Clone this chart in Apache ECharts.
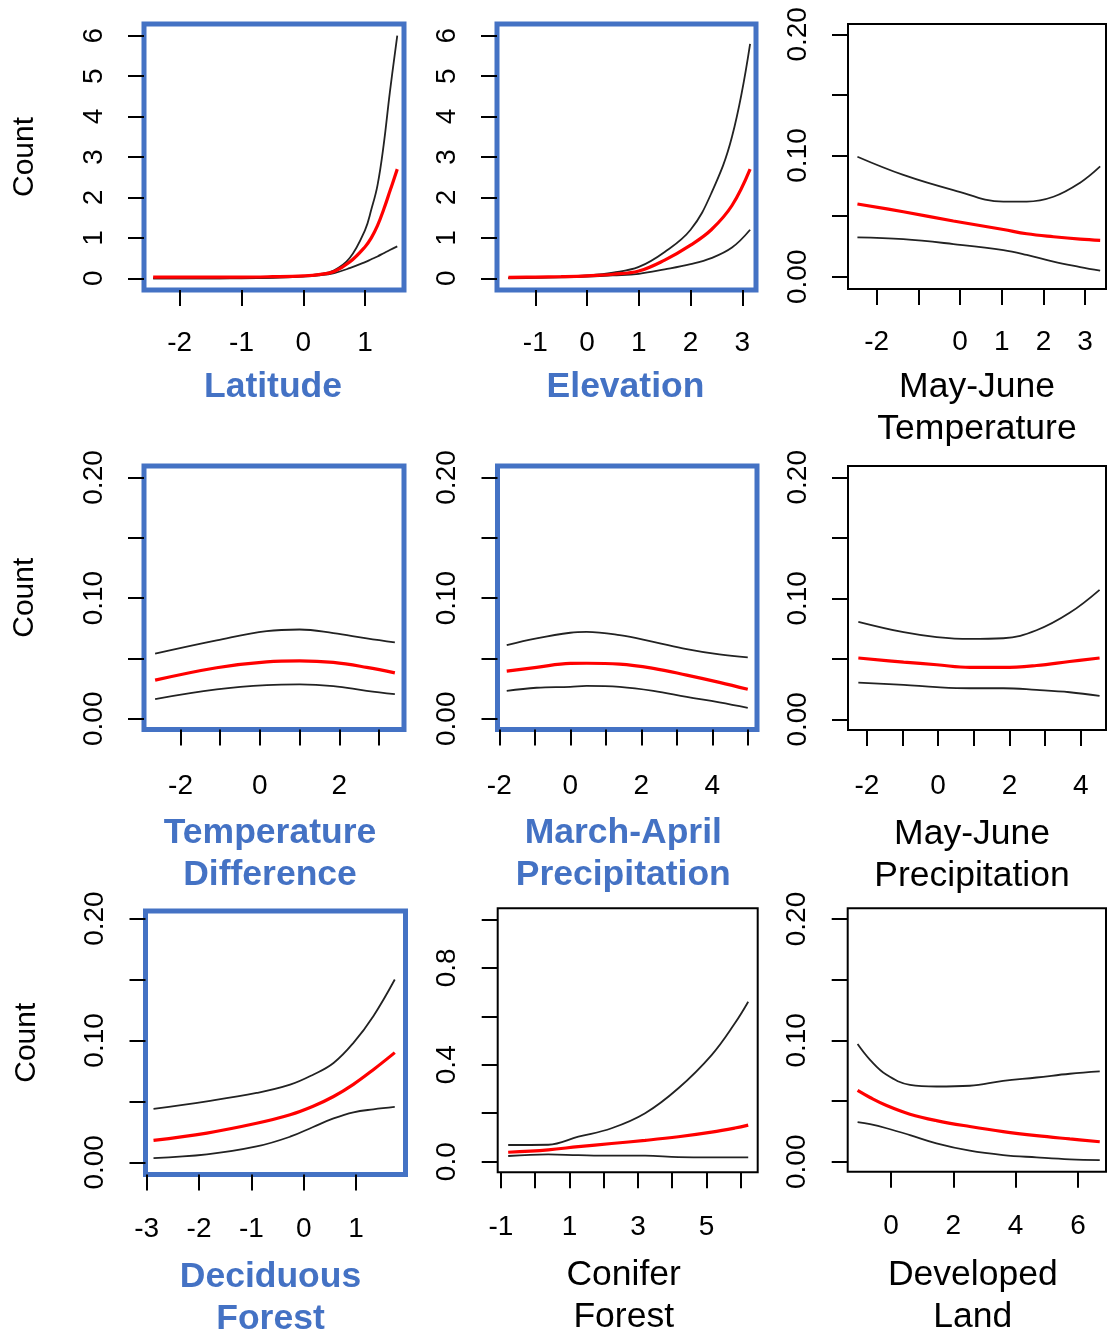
<!DOCTYPE html>
<html>
<head>
<meta charset="utf-8">
<script src="https://cdn.jsdelivr.net/npm/echarts@6/dist/echarts.min.js"></script>
<style>
  html, body { margin: 0; padding: 0; background: #fff; }
  #chart { width: 1107px; height: 1337px; }
</style>
</head>
<body>
<div id="chart"></div>
<script>
// ---- data (x = standardised covariate, y = predicted count) ----

// Latitude
const latX = [-2.43, -2, -1.5, -1, -0.5, 0, 0.25, 0.5, 0.75, 1.0, 1.1, 1.2, 1.3, 1.4, 1.52];
const latMean = [0.03, 0.03, 0.03, 0.03, 0.04, 0.06, 0.09, 0.17, 0.4, 0.78, 1.0, 1.3, 1.7, 2.15, 2.7];
const latUpper = [0.0, 0.0, 0.0, 0.01, 0.02, 0.06, 0.1, 0.2, 0.5, 1.2, 1.7, 2.3, 3.3, 4.6, 6.0];
const latLower = [0.0, 0.0, 0.0, 0.0, 0.01, 0.04, 0.07, 0.13, 0.25, 0.4, 0.47, 0.54, 0.62, 0.7, 0.79];

// Elevation
const eleX = [-1.52, -1, -0.5, 0, 0.5, 1.0, 1.5, 2.0, 2.4, 2.8, 3.15];
const eleMean = [0.02, 0.03, 0.04, 0.06, 0.1, 0.18, 0.45, 0.82, 1.2, 1.8, 2.7];
const eleUpper = [0.01, 0.02, 0.04, 0.07, 0.14, 0.28, 0.65, 1.2, 2.1, 3.5, 5.8];
const eleLower = [0.0, 0.01, 0.02, 0.04, 0.07, 0.11, 0.22, 0.35, 0.5, 0.76, 1.2];

// May-June Temperature
const mjtX = [-2.46, -1.36, -0.16, 1.04, 1.6, 2.24, 2.88, 3.36];
const mjtMean = [0.06, 0.0536, 0.046, 0.039, 0.0355, 0.033, 0.031, 0.03];
const mjtUpper = [0.099, 0.084, 0.0715, 0.062, 0.062, 0.066, 0.0776, 0.091];
const mjtLower = [0.0325, 0.031, 0.027, 0.022, 0.018, 0.0124, 0.008, 0.005];

// Temperature Difference
const tdX = [-2.64, -1.09, 0.17, 1.0, 1.85, 2.69, 3.4];
const tdMean = [0.032, 0.0423, 0.0472, 0.048, 0.0467, 0.0426, 0.038];
const tdUpper = [0.054, 0.065, 0.0727, 0.074, 0.071, 0.0666, 0.0633];
const tdLower = [0.0163, 0.0243, 0.0279, 0.0285, 0.0271, 0.0232, 0.0205];

// March-April Precipitation
const mapX = [-1.79, -0.95, 0, 0.46, 1.39, 2.34, 3.28, 4.2, 5.0];
const mapMean = [0.0395, 0.0426, 0.0459, 0.046, 0.0453, 0.0418, 0.0362, 0.0302, 0.0244];
const mapUpper = [0.061, 0.0666, 0.0713, 0.072, 0.0693, 0.0638, 0.0578, 0.0533, 0.0509];
const mapLower = [0.0232, 0.0257, 0.0265, 0.0273, 0.0265, 0.0232, 0.0182, 0.0136, 0.0091];

// May-June Precipitation
const mjpX = [-2.24, -0.97, -0.04, 0.89, 1.83, 2.76, 3.69, 4.53];
const mjpMean = [0.0507, 0.0473, 0.0451, 0.0429, 0.0429, 0.0445, 0.0478, 0.0507];
const mjpUpper = [0.0806, 0.072, 0.068, 0.0664, 0.067, 0.0736, 0.088, 0.107];
const mjpLower = [0.0304, 0.0285, 0.0266, 0.0257, 0.0257, 0.0243, 0.0224, 0.0194];

// Deciduous Forest
const decX = [-2.87, -1.85, -0.9, -0.26, 0.18, 0.57, 0.95, 1.33, 1.74];
const decMean = [0.018, 0.024, 0.032, 0.039, 0.046, 0.054, 0.064, 0.076, 0.09];
const decUpper = [0.0439, 0.05, 0.0569, 0.0637, 0.0719, 0.0815, 0.098, 0.1199, 0.15];
const decLower = [0.0035, 0.0065, 0.013, 0.021, 0.029, 0.036, 0.041, 0.0435, 0.0455];

// Conifer Forest
const conX = [-0.79, 0.38, 1.26, 2.23, 3.21, 4.18, 5.15, 5.83, 6.22];
const conMean = [0.039, 0.049, 0.062, 0.075, 0.088, 0.103, 0.122, 0.139, 0.151];
const conUpper = [0.069, 0.07, 0.103, 0.138, 0.2, 0.303, 0.44, 0.571, 0.66];
const conLower = [0.0235, 0.03, 0.027, 0.025, 0.025, 0.019, 0.018, 0.018, 0.018];

// Developed Land
const devX = [-1.07, -0.67, -0.14, 0.61, 1.46, 2.53, 3.6, 4.67, 5.74, 6.7];
const devMean = [0.0587, 0.0529, 0.0463, 0.0392, 0.0339, 0.029, 0.0248, 0.0215, 0.0188, 0.0165];
const devUpper = [0.097, 0.084, 0.0716, 0.0634, 0.062, 0.0626, 0.0667, 0.0694, 0.0725, 0.0744];
const devLower = [0.0326, 0.0309, 0.0276, 0.022, 0.0152, 0.0091, 0.0055, 0.0036, 0.002, 0.0014];

// ---- tick values / labels ----
const countTicks = [0, 1, 2, 3, 4, 5, 6];
const propTicks = [0, 0.05, 0.1, 0.15, 0.2];
const propLabels = [0, 0.1, 0.2];
const conYTicks = [0, 0.2, 0.4, 0.6, 0.8, 1.0];
const conYLabels = [0, 0.4, 0.8];
const latTicks = [-2, -1, 0, 1];
const eleTicks = [-1, 0, 1, 2, 3];
const mjtTicks = [-2, -1, 0, 1, 2, 3];
const mjtLabels = [-2, 0, 1, 2, 3];
const tdTicks = [-2, -1, 0, 1, 2, 3];
const tdLabels = [-2, 0, 2];
const mapTicks = [-2, -1, 0, 1, 2, 3, 4, 5];
const mapLabels = [-2, 0, 2, 4];
const mjpTicks = [-2, -1, 0, 1, 2, 3, 4];
const mjpLabels = [-2, 0, 2, 4];
const decTicks = [-3, -2, -1, 0, 1];
const conTicks = [-1, 0, 1, 2, 3, 4, 5, 6];
const conLabels = [-1, 1, 3, 5];
const devTicks = [0, 2, 4, 6];

const BLUE = "#4472C4";
const FONT = "Liberation Sans, Arial, sans-serif";

// layout: box = [left, top, right, bottom] in px; lm = x label margin; gap = title gap; shift = title nudge left
const panels = [
  { title: "Latitude", hl: true, box: [144, 24, 404, 290], xr: [-2.578, 1.629], yr: [-0.29, 6.29],
    xt: latTicks, xl: latTicks, yt: countTicks, yl: countTicks, dec: 0, lm: 39, gap: 76, shift: 1,
    x: latX, m: latMean, u: latUpper, l: latLower },
  { title: "Elevation", hl: true, box: [497, 24, 756, 290], xr: [-1.74, 3.264], yr: [-0.29, 6.29],
    xt: eleTicks, xl: eleTicks, yt: countTicks, yl: countTicks, dec: 0, lm: 39, gap: 76, shift: 1,
    x: eleX, m: eleMean, u: eleUpper, l: eleLower },
  { title: "May-June\nTemperature", hl: false, box: [848, 24, 1106, 289], xr: [-2.686, 3.5], yr: [-0.0101, 0.2085],
    xt: mjtTicks, xl: mjtLabels, yt: propTicks, yl: propLabels, dec: 2, lm: 39, gap: 77, shift: 0,
    x: mjtX, m: mjtMean, u: mjtUpper, l: mjtLower },
  { title: "Temperature\nDifference", hl: true, box: [144, 466, 404, 729.5], xr: [-2.92, 3.63], yr: [-0.0089, 0.2095],
    xt: tdTicks, xl: tdLabels, yt: propTicks, yl: propLabels, dec: 2, lm: 42.5, gap: 83, shift: 4,
    x: tdX, m: tdMean, u: tdUpper, l: tdLower },
  { title: "March-April\nPrecipitation", hl: true, box: [497.5, 466, 757, 729.5], xr: [-2.05, 5.26], yr: [-0.0089, 0.2095],
    xt: mapTicks, xl: mapLabels, yt: propTicks, yl: propLabels, dec: 2, lm: 42.5, gap: 83, shift: 4,
    x: mapX, m: mapMean, u: mapUpper, l: mapLower },
  { title: "May-June\nPrecipitation", hl: false, box: [848, 466, 1106, 730], xr: [-2.53, 4.71], yr: [-0.0088, 0.2093],
    xt: mjpTicks, xl: mjpLabels, yt: propTicks, yl: propLabels, dec: 2, lm: 42.5, gap: 83, shift: 5,
    x: mjpX, m: mjpMean, u: mjpUpper, l: mjpLower },
  { title: "Deciduous\nForest", hl: true, box: [145.5, 911, 405.5, 1174.5], xr: [-3.023, 1.945], yr: [-0.01, 0.2062],
    xt: decTicks, xl: decTicks, yt: propTicks, yl: propLabels, dec: 2, lm: 41, gap: 82, shift: 5,
    x: decX, m: decMean, u: decUpper, l: decLower },
  { title: "Conifer\nForest", hl: false, box: [497.7, 908.3, 757.7, 1172.3], xr: [-1.096, 6.497], yr: [-0.0437, 1.0454],
    xt: conTicks, xl: conLabels, yt: conYTicks, yl: conYLabels, dec: 1, lm: 41, gap: 82, shift: 4,
    x: conX, m: conMean, u: conUpper, l: conLower },
  { title: "Developed\nLand", hl: false, box: [847.7, 908.3, 1106, 1171.7], xr: [-1.387, 6.9], yr: [-0.0082, 0.2088],
    xt: devTicks, xl: devTicks, yt: propTicks, yl: propLabels, dec: 2, lm: 41, gap: 83, shift: 4,
    x: devX, m: devMean, u: devUpper, l: devLower },
];

function zip(xs, ys) {
  return xs.map((v, i) => [v, ys[i]]);
}

const grids = [], xAxes = [], yAxes = [], series = [];

panels.forEach((p, i) => {
  const [l, t, r, b] = p.box;
  grids.push({
    left: l, top: t, width: r - l, height: b - t,
    show: true,
    borderColor: p.hl ? BLUE : "#000",
    borderWidth: p.hl ? 5 : 2,
    backgroundColor: "transparent",
    containLabel: false,
    outerBoundsMode: "none",
  });

  xAxes.push({
    type: "value", gridIndex: i, min: p.xr[0], max: p.xr[1],
    axisLine: { show: false, onZero: false },
    splitLine: { show: false },
    axisTick: { show: true, length: 16, customValues: p.xt, lineStyle: { color: "#000", width: 2 } },
    axisLabel: { customValues: p.xl, margin: p.lm, fontSize: 28, color: "#000", fontFamily: FONT,
      formatter: (v) => String(v) },
    name: p.title, nameLocation: "middle", nameGap: p.gap,
    nameTextStyle: {
      fontSize: 35.5, lineHeight: 42, fontFamily: FONT,
      color: p.hl ? BLUE : "#000", fontWeight: p.hl ? "bold" : "normal",
      padding: [0, p.shift * 2, 0, 0],
    },
  });

  yAxes.push({
    type: "value", gridIndex: i, min: p.yr[0], max: p.yr[1],
    axisLine: { show: false, onZero: false },
    splitLine: { show: false },
    axisTick: { show: true, length: 16, customValues: p.yt, lineStyle: { color: "#000", width: 2 } },
    axisLabel: { customValues: p.yl, rotate: 90, margin: 36, fontSize: 28, color: "#000", fontFamily: FONT,
      formatter: (v) => Number(v).toFixed(p.dec) },
    name: i % 3 === 0 ? "Count" : "", nameLocation: "middle", nameRotate: 90, nameGap: 104,
    nameTextStyle: { fontSize: 30, color: "#000", fontFamily: FONT },
  });

  // confidence bounds (black) then fitted mean (red)
  [p.u, p.l].forEach((ys) => {
    series.push({
      type: "line", xAxisIndex: i, yAxisIndex: i, data: zip(p.x, ys),
      showSymbol: false, smooth: 0.4, silent: true,
      lineStyle: { color: "#222", width: 1.8 }, z: 2,
    });
  });
  series.push({
    type: "line", xAxisIndex: i, yAxisIndex: i, data: zip(p.x, p.m),
    showSymbol: false, smooth: 0.4, silent: true,
    lineStyle: { color: "#ff0000", width: 3.2 }, z: 3,
  });
});

const chart = echarts.init(document.getElementById("chart"), null, { renderer: "canvas" });
chart.setOption({
  animation: false,
  backgroundColor: "#fff",
  grid: grids,
  xAxis: xAxes,
  yAxis: yAxes,
  series: series,
});
</script>
</body>
</html>
